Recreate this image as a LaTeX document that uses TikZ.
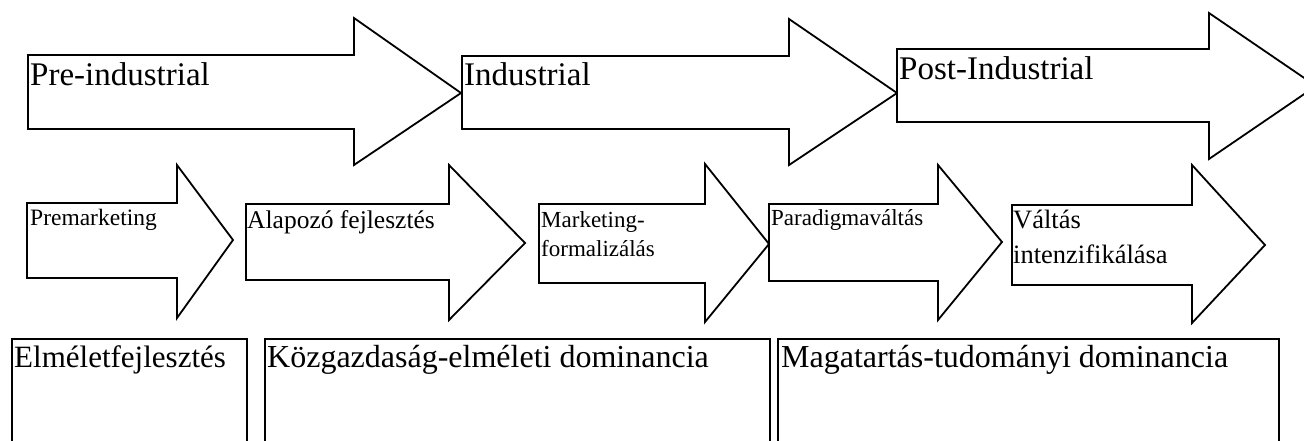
\documentclass[tikz,border=0pt]{standalone}
\usepackage{fontspec}
\setmainfont{Liberation Serif}
\newcommand\blockarrow[8]{%
  \draw[shapeline] (#1,#2) -- (#4,#2) -- (#4,#5) -- (#7,#8) -- (#4,#6) -- (#4,#3) -- (#1,#3) -- cycle;}
\begin{document}
\begin{tikzpicture}[x=1pt,y=-1pt,
  shapeline/.style={draw=black,line width=1.8pt,line join=miter,fill=white},
  lbl/.style={anchor=base west,inner sep=0pt,text=black},
  big/.style={lbl,font=\fontsize{33}{40}\selectfont},
  small/.style={lbl,font=\fontsize{23.5}{28}\selectfont},
  mid/.style={lbl,font=\fontsize{26}{31}\selectfont},
  boxlbl/.style={lbl,font=\fontsize{32}{38}\selectfont}]
\useasboundingbox (0,0) rectangle (1304,440);
\clip (0,0) rectangle (1304,440);
% top row
\blockarrow{28}{55}{129}{354}{18}{165}{461}{93}
\blockarrow{462}{56}{129}{789}{19}{165}{897}{93}
\blockarrow{897}{49}{122}{1209}{13}{159}{1316}{86}
\node[big] (pre) at (30,85) {Pre-industrial};
\node[big] (ind) at (464,85) {Industrial};
\node[big] (post) at (899,79) {Post-Industrial};
% middle row
\blockarrow{27}{203}{278}{177}{165}{318}{233}{240}
\blockarrow{246}{204}{280}{449}{165}{320}{525}{243}
\blockarrow{539}{204}{283}{705}{164}{322}{769}{244}
\blockarrow{769}{204}{281}{938}{165}{320}{1002}{242}
\blockarrow{1012}{205}{285}{1192}{165}{323}{1265}{245}
\node[small] (prem) at (30,225) {Premarketing};
\node[mid,font=\fontsize{25.5}{30}\selectfont] (alap) at (247,228) {Alapozó fejlesztés};
\node[small,font=\fontsize{23}{28}\selectfont] (mk1) at (541,227) {Marketing-};
\node[small,font=\fontsize{23}{28}\selectfont] (mk2) at (541,256) {formalizálás};
\node[small,font=\fontsize{23}{28}\selectfont] (para) at (771,225) {Paradigmaváltás};
\node[mid,font=\fontsize{26.5}{31}\selectfont] (va1) at (1013,228) {Váltás};
\node[mid,font=\fontsize{26.5}{31}\selectfont] (va2) at (1013,263) {intenzifikálása};
% bottom boxes
\draw[shapeline] (12,339) rectangle (247,470);
\draw[shapeline] (265,339) rectangle (770,470);
\draw[shapeline] (778,339) rectangle (1279,470);
\node[boxlbl,font=\fontsize{31}{37}\selectfont] (elm) at (14,367) {Elméletfejlesztés};
\node[boxlbl] (koz) at (267,367) {Közgazdaság-elméleti dominancia};
\node[boxlbl] (mag) at (781,367) {Magatartás-tudományi dominancia};
\end{tikzpicture}
\end{document}
